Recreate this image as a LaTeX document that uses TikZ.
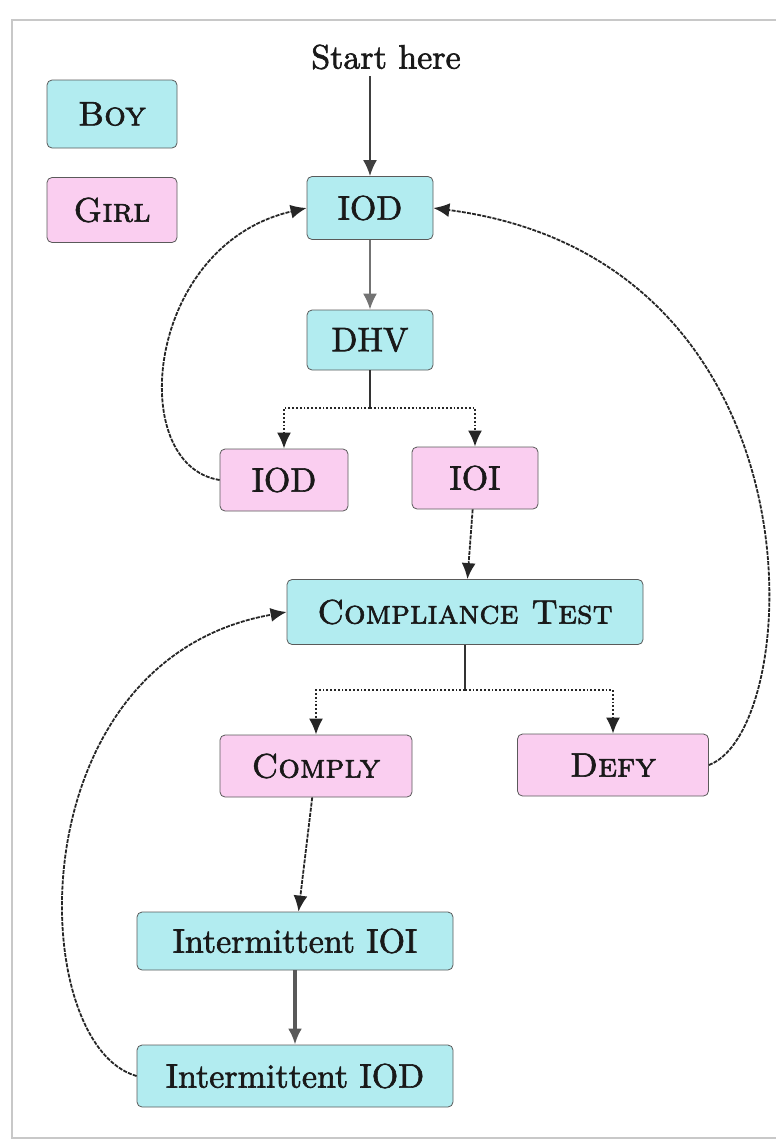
\documentclass[tikz,border=0pt]{standalone}
\usepackage{fontspec}
\usetikzlibrary{arrows.meta}
\newfontfamily\diagfont{lmroman10-regular.otf}[FakeBold=1.8,
  SmallCapsFont=lmromancaps10-regular.otf,SmallCapsFeatures={FakeBold=1.8}]
\definecolor{boycyan}{RGB}{178,236,240}
\definecolor{girlpink}{RGB}{250,206,240}
\definecolor{edgegray}{RGB}{90,90,90}
\definecolor{framegray}{RGB}{200,200,200}

\begin{document}
\begin{tikzpicture}[x=0.5pt,y=-0.5pt,>={Latex[length=8pt,width=7pt]},
  box/.style={draw=edgegray,rounded corners=2.5pt,inner sep=2pt,
    font=\diagfont\fontsize{17}{20}\selectfont,text=black!90},
  boy/.style={box,fill=boycyan},
  girl/.style={box,fill=girlpink},
  link/.style={->,draw=black!75,line width=1pt},
  dotlink/.style={->,black!85,densely dotted,line width=0.9pt},
  looplink/.style={->,black!85,dash pattern=on 2pt off 0.6pt,line width=0.9pt}]
\useasboundingbox (0,0) rectangle (776,1141);
\draw[framegray,line width=1pt] (776,20) -- (12,20) -- (12,1138) -- (776,1138);

% legend
\node[boy,minimum width=65pt,minimum height=34pt] (legboy) at (112,114) {\textsc{Boy}};
\node[girl,minimum width=65pt,minimum height=32.5pt] (leggirl) at (112,210) {\textsc{Girl}};

% flow
\node[font=\diagfont\fontsize{17}{20}\selectfont,text=black!90] (start) at (386,57) {Start here};
\node[boy,minimum width=63pt,minimum height=31.5pt] (iod) at (370,208) {IOD};
\node[boy,minimum width=63pt,minimum height=30pt] (dhv) at (370,340) {DHV};
\coordinate (split1) at (370,408);
\node[girl,minimum width=64pt,minimum height=31pt] (iodg) at (284,480) {IOD};
\node[girl,minimum width=63pt,minimum height=31pt] (ioi) at (475,478) {IOI};
\node[boy,minimum width=178pt,minimum height=32.5pt] (comp) at (465,612) {\textsc{Compliance Test}};
\coordinate (split2) at (465,690);
\node[girl,minimum width=96pt,minimum height=31pt] (comply) at (316,766) {\textsc{Comply}};
\node[girl,minimum width=95.5pt,minimum height=31pt] (defy) at (613,765) {\textsc{Defy}};
\node[boy,minimum width=158pt,minimum height=29pt] (intioi) at (295,941) {Intermittent IOI};
\node[boy,minimum width=158pt,minimum height=31pt] (intiod) at (295,1076) {Intermittent IOD};

% straight connectors
\draw[link] (start.south -| iod.north) -- (iod.north);
\draw[link,draw=black!55] (iod) -- (dhv);
\draw[black!80,line width=1pt] (dhv) -- (split1);
\draw[dotlink] (split1) -| (iodg);
\draw[dotlink] (split1) -| (ioi);
\draw[looplink] (ioi) -- (comp);
\draw[black!80,line width=1pt] (comp) -- (split2);
\draw[dotlink] (split2) -| (comply);
\draw[dotlink] (split2) -| (defy);
\draw[looplink] (comply) -- (intioi);
\draw[link,draw=black!65,line width=2pt] (intioi) -- (intiod);

% loops back
\draw[looplink] (iodg.west) .. controls (125,465) and (145,245) .. (iod.west);
\draw[looplink] (defy.east) .. controls (805,730) and (830,260) .. (iod.east);
\draw[looplink] (intiod.west) .. controls (25,1045) and (15,660) .. (comp.west);
\end{tikzpicture}
\end{document}
